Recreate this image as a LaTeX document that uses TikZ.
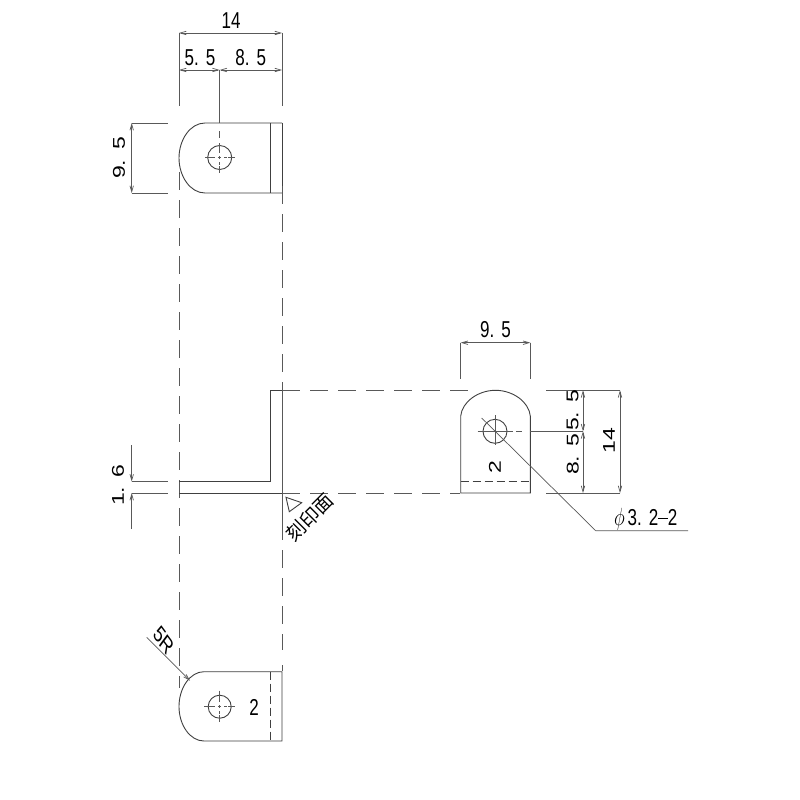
\documentclass[tikz,border=0pt]{standalone}
\usepackage{fontspec}
\setmainfont{Liberation Sans}
\newfontfamily\cjkfont{Noto Sans CJK JP}
\usetikzlibrary{arrows.meta}
\definecolor{ink}{gray}{0.25}
\definecolor{dimink}{gray}{0.35}
\tikzset{
  part/.style={draw=ink,line width=0.9pt},
  dimline/.style={draw=dimink,line width=0.7pt},
  dimarrow/.style={dimline,{Straight Barb[length=6pt,width=3.5pt]}-{Straight Barb[length=6pt,width=3.5pt]}},
  onearrow/.style={dimline,-{Straight Barb[length=6pt,width=3.5pt]}},
  hidden/.style={draw=dimink,line width=0.8pt,dash pattern=on 18pt off 10pt},
  hid/.style={draw=ink,line width=0.7pt,dash pattern=on 8pt off 4pt},
  lab/.style={inner sep=0pt,font=\fontsize{23}{23}\selectfont,xscale=0.74,text=black},
}
\newcommand{\gp}{\hspace{0.42em}}
\begin{document}
\begin{tikzpicture}[x=1pt,y=-1pt]
\useasboundingbox (0,0) rectangle (800,800);
\fill[white] (0,0) rectangle (800,800);
% top plate
\draw[part] (282,123) -- (205,123) .. controls (190,123) and (179,140) .. (179,158) .. controls (179,176) and (190,193) .. (205,193) -- (282,193);
\draw[part] (270,123) -- (270,193);
\draw[part] (282,123) -- (282,193);
\draw[part] (219.7,157.5) circle (12);
\draw[dimline] (205,157.5) -- (212,157.5);
\draw[dimline] (228,157.5) -- (235,157.5);
\draw[dimline,dashed] (212,157.5) -- (228,157.5);
\draw[dimline] (219.7,143) -- (219.7,150);
\draw[dimline] (219.7,166) -- (219.7,173);
\draw[dimline,dashed] (219.7,150) -- (219.7,166);
\draw[dimline] (219.7,131) -- (219.7,138);
% top dims
\node[lab] (t14) at (231,21) {14};
\node[lab] (t55) at (200,58) {5.\gp5};
\node[lab] (t85) at (250.7,58) {8.\gp5};
\node[lab,rotate=90] (t95) at (119,158) {9.\gp5};
\draw[dimarrow] (179,33) -- (282,33);
\draw[dimarrow] (179,70) -- (219.7,70);
\draw[dimarrow] (219.7,70) -- (282,70);
\draw[dimline] (179,33) -- (179,106);
\draw[dimline] (282,33) -- (282,106);
\draw[dimline] (219.7,70) -- (219.7,123);
\draw[dimarrow] (131.7,123) -- (131.7,193);
\draw[dimline] (131.7,123) -- (168,123);
\draw[dimline] (131.7,193) -- (168,193);
% vertical projection lines
\draw[hidden] (179,172) -- (179,688);
\draw[hidden] (282,186) -- (282,385);
\draw[hidden] (282,522) -- (282,650);
\draw[dimline] (282,384) -- (282,493);
\draw[dimline] (282,493) -- (282,522);
\draw[dimline] (282,665) -- (282,671);
% L section
\draw[part] (179,493) -- (282,493);
\draw[part] (179,481.5) -- (270.3,481.5) -- (270.3,390.5) -- (282,390.5);
\draw[hidden] (282,390.5) -- (476,390.5);
\draw[hidden] (282,493) -- (460,493);
% 1.6 dim
\draw[onearrow] (131.7,445) -- (131.7,481.5);
\draw[onearrow] (131.7,529) -- (131.7,493);
\draw[dimline] (131.7,481.5) -- (168,481.5);
\draw[dimline] (131.7,493) -- (168,493);
\node[lab,rotate=90] (t16) at (118,485) {1.\gp6};
% engraved mark
\draw[part] (286,497.3) -- (301.7,502.7) -- (289.3,511.7) -- cycle;
\node[inner sep=0pt,rotate=45,font=\cjkfont\fontsize{19}{19}\selectfont,text=black] (mark) at (310,517.5) {刻印面};
% right plate
\draw[part] (460.7,493) -- (460.7,416) .. controls (462,402) and (478,390.3) .. (495.5,390.3) .. controls (513,390.3) and (529,402) .. (530.3,416) -- (530.3,493) -- cycle;
\draw[hid] (460.7,481.7) -- (530.3,481.7);
\draw[part] (495,431.3) circle (12);
\draw[dimline] (477.7,431.3) -- (512.5,431.3);
\draw[dimline] (516,431.3) -- (522,431.3);
\draw[dimline] (495,415) -- (495,445);
% right dims
\node[lab] (r95) at (495.5,330) {9.\gp5};
\draw[dimarrow] (460.7,342.7) -- (530.3,342.7);
\draw[dimline] (460.7,342.7) -- (460.7,379);
\draw[dimline] (530.3,342.7) -- (530.3,379);
\draw[dimline] (546,390.3) -- (620,390.3);
\draw[dimline] (546,493) -- (620,493);
\draw[dimline] (530.3,431.3) -- (583,431.3);
\draw[dimarrow] (583,390.3) -- (583,431.3);
\draw[dimarrow] (583,431.3) -- (583,493);
\draw[dimarrow] (620,390.3) -- (620,493);
\node[lab,rotate=90] (r55) at (572.7,410) {5.\gp5};
\node[lab,rotate=90] (r85) at (572.7,454) {8.\gp5};
\node[lab,rotate=90] (r14) at (609,440.7) {14};
\node[lab,rotate=90] (r2) at (495,466.7) {2};
\draw[dimline] (481.7,418) -- (595.7,530.7) -- (688,530.7);
\node[lab] (phi) at (645.7,519) {$\phi$\,3.\gp2\raisebox{0.25em}{\rule{0.55em}{0.07em}}2};
% bottom plate
\draw[part] (282,671.7) -- (204,671.7) .. controls (190,671.7) and (179,688) .. (179,706.5) .. controls (179,725) and (190,741) .. (204,741) -- (282,741) -- cycle;
\draw[hid] (270,671.7) -- (270,741);
\draw[part] (219.7,706.7) circle (11.5);
\draw[dimline] (204,706.7) -- (212,706.7);
\draw[dimline] (228,706.7) -- (235,706.7);
\draw[dimline,dashed] (212,706.7) -- (228,706.7);
\draw[dimline] (219.7,690.7) -- (219.7,699);
\draw[dimline] (219.7,714.5) -- (219.7,722);
\draw[dimline,dashed] (219.7,699) -- (219.7,714.5);
\node[lab] (b2) at (254,707) {2};
\draw[onearrow] (146.7,637.3) -- (190,680.7);
\node[lab,rotate=-45] (b5r) at (164,640.7) {5R};
\end{tikzpicture}
\end{document}
